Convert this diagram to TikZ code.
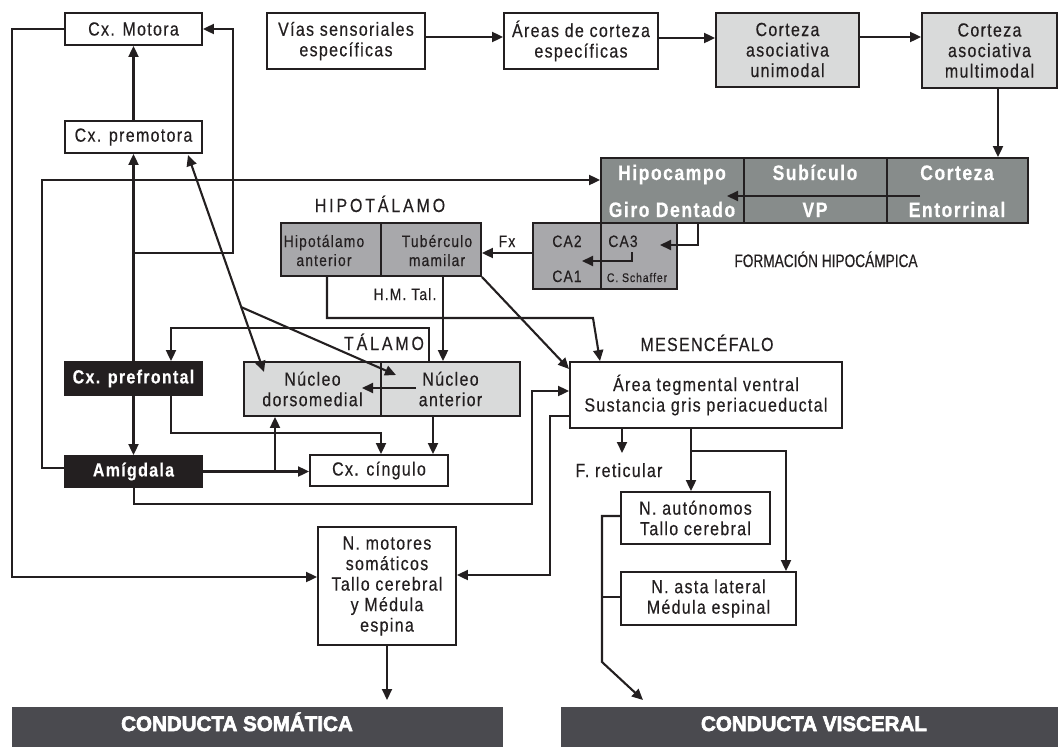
\documentclass[tikz,border=0pt]{standalone}
\usepackage{fontspec}
\setmainfont{Liberation Sans}[FakeStretch=0.84, LetterSpace=7, FakeBold=0.4]
\newfontfamily\regionfont{Liberation Sans}[FakeStretch=0.84, LetterSpace=15, FakeBold=0.4]
\newfontfamily\regionfontb{Liberation Sans}[FakeStretch=0.84, LetterSpace=7, FakeBold=0.4]
\newfontfamily\condfont{Liberation Sans}[FakeStretch=0.76, FakeBold=0.4]
\newfontfamily\barfont{Liberation Sans}[FakeStretch=0.98, FakeBold=3]
\usetikzlibrary{arrows.meta}

\definecolor{ink}{HTML}{231F20}
\definecolor{lightg}{HTML}{D9DADA}
\definecolor{midg}{HTML}{A8A8AB}
\definecolor{darkg}{HTML}{878C8B}
\definecolor{barg}{HTML}{4A4A4F}

\begin{document}
\begin{tikzpicture}[x=1pt, y=-1pt,
  wh/.style 2 args={minimum width=#1pt, minimum height=#2pt},
  box/.style={draw=ink, line width=1.9pt, inner sep=0pt, align=center, text=ink,
              font=\fontsize{19}{20.5}\selectfont},
  lgbox/.style={box, fill=lightg},
  mgbox/.style={box, fill=midg},
  dgbox/.style={box, fill=darkg},
  blkbox/.style={box, fill=ink, text=white, font=\fontsize{19}{21}\selectfont\bfseries},
  barbox/.style={fill=barg, inner sep=0pt},
  txt/.style={inner sep=0pt, anchor=base, text=ink, font=\fontsize{19}{20.5}\selectfont},
  small/.style={txt, font=\fontsize{16.5}{19}\selectfont},
  tiny/.style={txt, font=\fontsize{12.5}{14}\selectfont},
  hipotxt/.style={txt, text=white, font=\fontsize{21}{24}\selectfont\bfseries},
  region/.style={txt, font=\regionfont\fontsize{19}{20}\selectfont},
  regionb/.style={txt, font=\regionfontb\fontsize{19}{20}\selectfont},
  formtxt/.style={txt, font=\condfont\fontsize{18}{20}\selectfont},
  bartxt/.style={inner sep=0pt, anchor=base, text=white, font=\barfont\fontsize{21}{24}\selectfont\bfseries},
  ln/.style={draw=ink, line width=2.1pt},
  arr/.style={ln, -{Triangle[length=11pt,width=10pt]}},
  dbl/.style={ln, {Triangle[length=11pt,width=10pt]}-{Triangle[length=11pt,width=10pt]}}
]
\useasboundingbox (0,0) rectangle (1058,747);

% ---- cortex, top row ----
\node[box, wh={137}{32}] (motora) at (133.5,29) {Cx. Motora};
\node[box, wh={137}{32}] (premotora) at (133.5,137) {Cx. premotora};
\node[box, wh={158}{56}] (vias) at (346,41) {Vías sensoriales\\específicas};
\node[box, wh={154}{56}] (areas) at (581,41) {Áreas de corteza\\específicas};
\node[lgbox, wh={143}{74}] (unimodal) at (787.5,50) {Corteza\\asociativa\\unimodal};
\node[lgbox, wh={135}{75}] (multimodal) at (989.5,50.5) {Corteza\\asociativa\\multimodal};

% ---- hippocampal formation ----
\node[mgbox, wh={68}{66}] (ca21) at (567,256) {};
\node[mgbox, wh={76}{66}] (ca3) at (639,256) {};
\node[dgbox, wh={143}{65}] (hipo) at (672.5,190.5) {};
\node[dgbox, wh={143}{65}] (subic) at (815.5,190.5) {};
\node[dgbox, wh={141}{65}] (entor) at (957.5,190.5) {};
\node[hipotxt] (hipoA) at (672,180) {Hipocampo};
\node[hipotxt] (hipoB) at (672,217) {Giro Dentado};
\node[hipotxt] (subA) at (815,180) {Subículo};
\node[hipotxt] (subB) at (815,217) {VP};
\node[hipotxt] (entA) at (957,180) {Corteza};
\node[hipotxt] (entB) at (957,217) {Entorrinal};
\node[small] (ca2T) at (567,247) {CA2};
\node[small] (ca1T) at (567,282) {CA1};
\node[small] (ca3T) at (623,247) {CA3};
\node[tiny] (schT) at (637,282) {C. Schaffer};
\node[formtxt] (formL) at (826,267) {FORMACIÓN HIPOCÁMPICA};

% ---- hypothalamus ----
\node[mgbox, wh={100}{53}] (hipant) at (331,249.5) {};
\node[mgbox, wh={100}{53}] (tuber) at (431,249.5) {};
\node[small] (hipantA) at (324,247) {Hipotálamo};
\node[small] (hipantB) at (324,266) {anterior};
\node[small] (tuberA) at (437,247) {Tubérculo};
\node[small] (tuberB) at (437,266) {mamilar};
\node[region] (hipotL) at (380,212) {HIPOTÁLAMO};
\node[small] (fxL) at (507,247) {Fx};
\node[small] (hmL) at (405,300) {H.M. Tal.};

% ---- thalamus ----
\node[lgbox, wh={137}{54}] (dm) at (312.5,389) {Núcleo\\dorsomedial};
\node[lgbox, wh={139}{54}] (ant) at (450.5,389) {Núcleo\\anterior};
\node[region] (talL) at (384,350) {TÁLAMO};

% ---- limbic / prefrontal ----
\node[blkbox, wh={137}{33}] (prefrontal) at (133.5,378.5) {Cx. prefrontal};
\node[blkbox, wh={137}{31}] (amigdala) at (133.5,471.5) {Amígdala};
\node[box, wh={138}{31}] (cingulo) at (379,470.5) {Cx. cíngulo};

% ---- midbrain and effectors ----
\node[box, wh={272}{66}] (mesen) at (706,395) {Área tegmental ventral\\Sustancia gris periacueductal};
\node[regionb] (mesL) at (707,351) {MESENCÉFALO};
\node[txt] (frL) at (619,477) {F. reticular};
\node[box, wh={138}{118}] (motores) at (387,586) {N. motores\\somáticos\\Tallo cerebral\\y Médula\\espina};
\node[box, wh={149}{52}] (autonomos) at (695.5,518) {N. autónomos\\Tallo cerebral};
\node[box, wh={175}{53}] (asta) at (708.5,598.5) {N. asta lateral\\Médula espinal};

% ---- output bars ----
\node[barbox, wh={491}{40}] (somatica) at (257.5,727) {};
\node[barbox, wh={497}{40}] (visceral) at (809.5,727) {};
\node[bartxt] (somaticaT) at (237,731) {CONDUCTA SOMÁTICA};
\node[bartxt] (visceralT) at (814,731) {CONDUCTA VISCERAL};

% ---- free points of connectors ----
\coordinate (entorOut) at (920,196);
\coordinate (hipoIn) at (727,196);
\coordinate (gdOut) at (698,223);
\coordinate (ca3In) at (660,245);
\coordinate (schOut) at (632,252);
\coordinate (ca1In) at (582,261);
\coordinate (dmTip) at (264,372);
\coordinate (pmTip) at (188,155);
\coordinate (fork) at (241,307);
\coordinate (antTip) at (396,375);
\coordinate (antOut) at (416,388);
\coordinate (dmIn) at (362,388);
\coordinate (mesTip) at (569,369);
\coordinate (frTip) at (622,453);
\coordinate (visTip) at (643,700);

% ---- connectors ----
\draw[arr] (vias.east |- 0,37) -- (areas.west |- 0,37);
\draw[arr] (areas.east |- 0,38) -- (unimodal.west |- 0,38);
\draw[arr] (unimodal.east |- 0,37) -- (multimodal.west |- 0,37);
\draw[arr] (998,0 |- multimodal.south) -- (998,0 |- entor.north);
\draw[arr] (entorOut) -- (hipoIn);
\draw[arr] (gdOut) |- (ca3In);
\draw[arr] (schOut) |- (ca1In);
\draw[arr] (ca21.west |- 0,253) -- (tuber.east |- 0,253);

\draw[arr] (443,0 |- tuber.south) -- (443,0 |- ant.north);
\draw[arr] (327,0 |- hipant.south) -- (327,318) -- (593,318) -- (600,0 |- mesen.north);
\draw[arr] (tuber.south east) -- (mesTip);

\draw[dbl] (pmTip) -- (dmTip);
\draw[arr] (fork) -- (antTip);
\draw[arr] (antOut) -- (dmIn);
\draw[arr] (429,0 |- ant.north) -- (429,328) -- (171,328) -- (171,0 |- prefrontal.north);
\draw[arr] (433,0 |- ant.south) -- (433,0 |- cingulo.north);
\draw[arr] (171,0 |- prefrontal.south) -- (171,433) -- (381,433) -- (381,0 |- cingulo.north);

\draw[arr] (prefrontal.north) -- (premotora.south);
\draw[arr] (133.5,253) -- (233,253) -- (233,29) -- (motora.east);
\draw[arr] (premotora.north) -- (motora.south);
\draw[arr] (motora.west) -- (12,29) -- (12,577) -- (motores.west |- 0,577);
\draw[arr] (prefrontal.south) -- (amigdala.north);

\draw[arr] (amigdala.east) -- (cingulo.west |- amigdala.east);
\draw[arr] (275,0 |- amigdala.east) -- (275,0 |- dm.south);
\draw[arr] (amigdala.west |- 0,468) -- (42,468) -- (42,180) -- (hipo.west |- 0,180);
\draw[arr] (134,0 |- amigdala.south) -- (134,504) -- (532,504) -- (532,391) -- (mesen.west |- 0,391);

\draw[arr] (mesen.west |- 0,416) -- (550,416) -- (550,575) -- (motores.east |- 0,575);
\draw[arr] (622,0 |- mesen.south) -- (frTip);
\draw[arr] (691,0 |- mesen.south) -- (691,0 |- autonomos.north);
\draw[arr] (691,451) -- (786,451) -- (786,0 |- asta.north);
\draw[arr] (autonomos.west |- 0,516) -- (602,516) -- (602,662) -- (visTip);
\draw[ln] (asta.west |- 0,597) -- (602,597);
\draw[arr] (motores.south) -- (motores.south |- 0,700);

\end{tikzpicture}
\end{document}
